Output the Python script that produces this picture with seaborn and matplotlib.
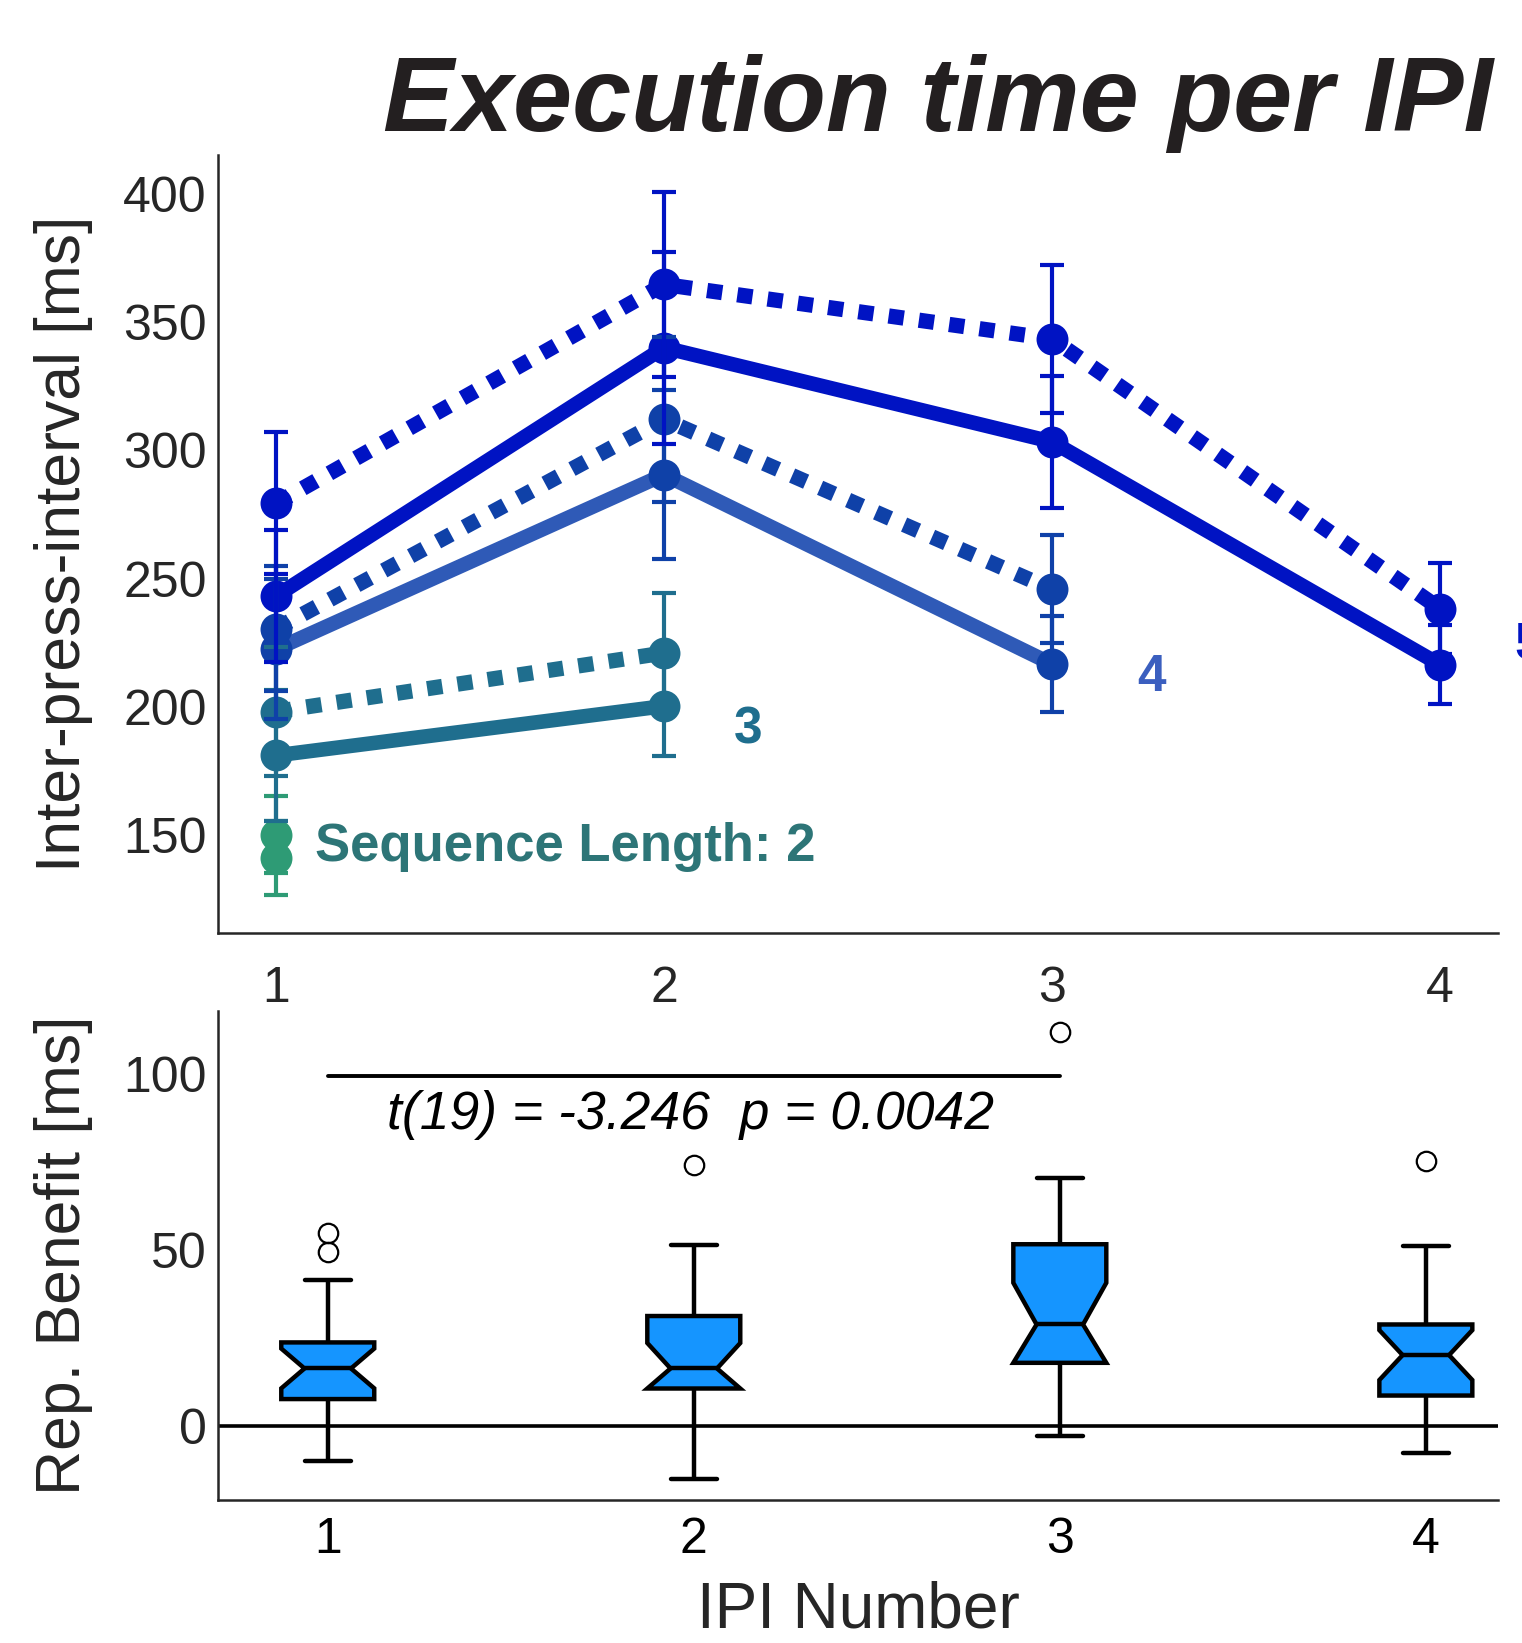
import numpy as np
import pandas as pd
import matplotlib
matplotlib.use("Agg")
import matplotlib.pyplot as plt
from matplotlib.path import Path
import seaborn as sns

sns.set_theme(style="white")
plt.rcParams['font.family'] = ['Liberation Sans', 'DejaVu Sans']

# ---------------- data (top panel: mean IPI +/- SEM) ----------------
ipi_numbers = [1, 2, 3, 4]

seq2_rep = [141.2]
seq2_rep_sem = [14.4]
seq2_nonrep = [150.2]
seq2_nonrep_sem = [15.0]

seq3_rep = [181.1, 200.3]
seq3_rep_sem = [25.4, 19.3]
seq3_nonrep = [198.2, 221.0]
seq3_nonrep_sem = [25.3, 23.3]

seq4_rep = [222.5, 290.5, 216.7]
seq4_rep_sem = [27.2, 32.8, 18.7]
seq4_nonrep = [230.5, 312.0, 245.8]
seq4_nonrep_sem = [24.2, 32.1, 21.1]

seq5_rep = [243.2, 340.0, 303.3, 216.5]
seq5_rep_sem = [25.8, 37.4, 25.8, 15.5]
seq5_nonrep = [279.3, 364.6, 343.4, 238.3]
seq5_nonrep_sem = [27.7, 36.2, 28.9, 17.7]

# ---------------- data (bottom panel: repetition benefit per subject, n=20) ----------------
benefit_ipi1 = [-9.8, -2, 3, 6, 7.7, 7.7, 10, 12, 14, 16.4, 16.4, 18, 20, 22, 23.8, 23.8, 30, 41.4, 49.4, 54.8]
benefit_ipi2 = [-14.9, -5, 2, 8, 10.7, 10.7, 12, 13, 15, 16.4, 16.4, 20, 24, 28, 31.3, 31.3, 36, 42, 51.5, 74.1]
benefit_ipi3 = [-2.7, 5, 12, 16, 18.0, 18.0, 21, 24, 27, 28.9, 28.9, 33, 40, 47, 51.7, 51.7, 58, 64, 70.5, 111.9]
benefit_ipi4 = [-7.7, 0, 4, 7, 8.7, 8.7, 12, 15, 18, 20.2, 20.2, 22, 24, 26, 28.9, 28.9, 35, 42, 51.2, 75.3]
ipi_labels = ["1", "2", "3", "4"]

title = "Execution time per IPI"
stat_text = "t(19) = -3.246  p = 0.0042"

# ---------------- colours ----------------
c5 = "#0013c3"
c4 = "#0f41a8"
c4_line = "#2f5ab7"
c3 = "#1f6e8e"
c2 = "#2e9b75"
txt = "#262626"

fig = plt.figure(figsize=(15.22, 16.43), dpi=100)
ax1 = fig.add_axes([0.1432, 0.4323, 0.8410, 0.4733])
ax2 = fig.add_axes([0.1432, 0.0870, 0.8410, 0.2977])

LW_SOLID = 10.5
LW_DOT = 11
MS = 23
dotted = (0, (1.0, 1.0))

series = [
    (seq2_nonrep, seq2_nonrep_sem, c2, c2, dotted),
    (seq2_rep, seq2_rep_sem, c2, c2, "-"),
    (seq3_nonrep, seq3_nonrep_sem, c3, c3, dotted),
    (seq3_rep, seq3_rep_sem, c3, c3, "-"),
    (seq4_rep, seq4_rep_sem, c4_line, c4, "-"),
    (seq4_nonrep, seq4_nonrep_sem, c4, c4, dotted),
    (seq5_rep, seq5_rep_sem, c5, c5, "-"),
    (seq5_nonrep, seq5_nonrep_sem, c5, c5, dotted),
]

for vals, sem, lc, mc, ls in series:
    xs = ipi_numbers[:len(vals)]
    sns.lineplot(x=xs, y=vals, ax=ax1, color=lc,
                 linewidth=(LW_SOLID if ls == "-" else LW_DOT), linestyle=ls,
                 marker="o", markersize=MS, markerfacecolor=mc, markeredgecolor=mc,
                 markeredgewidth=0, errorbar=None, legend=False)

for vals, sem, lc, mc, ls in series:
    xs = ipi_numbers[:len(vals)]
    ax1.errorbar(xs, vals, yerr=sem, fmt="none", ecolor=mc, elinewidth=3,
                 capsize=8.5, capthick=3)

ax1.text(1.10, 145.5, "Sequence Length: 2", color="#2d7577", fontsize=38,
         fontweight="bold", ha="left", va="center")
ax1.text(2.216, 191, "3", color=c3, fontsize=37, fontweight="bold", ha="center", va="center")
ax1.text(3.256, 211.5, "4", color="#3b5fbf", fontsize=37, fontweight="bold", ha="center", va="center")
ax1.text(4.23, 224, "5", color=c5, fontsize=37, fontweight="bold", ha="center", va="center",
         clip_on=False)

ax1.set_xlim(0.85, 4.15)
ax1.set_ylim(112, 415)
ax1.set_xticks(ipi_numbers)
ax1.set_xticklabels(ipi_labels)
ax1.set_yticks([150, 200, 250, 300, 350, 400])
ax1.set_ylabel("Inter-press-interval [ms]", fontsize=45, color=txt)
ax1.yaxis.set_label_coords(-0.098, 0.5)
ax1.set_xlabel("")
ax1.tick_params(axis="both", direction="in", length=9, width=1.6, colors=txt, labelsize=36)
ax1.tick_params(axis="x", pad=24)
ax1.tick_params(axis="y", pad=8)

# ---------------- bottom panel ----------------
groups = [benefit_ipi1, benefit_ipi2, benefit_ipi3, benefit_ipi4]
df = pd.DataFrame({
    "IPI": np.repeat(ipi_labels, 20),
    "benefit": benefit_ipi1 + benefit_ipi2 + benefit_ipi3 + benefit_ipi4,
})
sns.boxplot(data=df, x="IPI", y="benefit", order=ipi_labels, ax=ax2, notch=True,
            width=0.254, color="#1595ff", saturation=1, linecolor="black",
            linewidth=3.2, fliersize=14,
            flierprops=dict(marker="o", markerfacecolor="none",
                            markeredgecolor="black", markeredgewidth=1.6))

# keep the notch outline inside the box (no spurs past the quartiles)
for patch, g in zip(ax2.patches, groups):
    q1, q3 = np.percentile(g, [25, 75])
    path = patch.get_path()
    verts = path.vertices.copy()
    verts[:, 1] = np.clip(verts[:, 1], q1, q3)
    patch.set_path(Path(verts, path.codes))
    patch.set_joinstyle("miter")

ax2.axhline(0, color="black", lw=2.6, zorder=1)
ax2.plot([0, 2], [99.5, 99.5], color="black", lw=2.8, solid_capstyle="round")
ax2.text(0.99, 88.4, stat_text, fontsize=38.5, fontstyle="italic", ha="center",
         va="center", color="black")

ax2.set_xlim(-0.3, 3.197)
ax2.set_ylim(-21, 118)
ax2.set_yticks([0, 50, 100])
ax2.set_ylabel("Rep. Benefit [ms]", fontsize=45, color=txt)
ax2.yaxis.set_label_coords(-0.098, 0.5)
ax2.set_xlabel("IPI Number", fontsize=46, color=txt)
ax2.xaxis.set_label_coords(0.5, -0.165)
ax2.tick_params(axis="both", direction="in", length=9, width=1.6, colors=txt, labelsize=36)
ax2.tick_params(axis="x", pad=12, labelcolor="black")
ax2.tick_params(axis="y", pad=8)

for ax in (ax1, ax2):
    for side in ("top", "right"):
        ax.spines[side].set_visible(False)
    for side in ("left", "bottom"):
        ax.spines[side].set_color(txt)
        ax.spines[side].set_linewidth(1.8)

fig.text(0.981, 0.9203, title, ha="right", va="baseline", fontsize=76.5,
         fontweight="bold", fontstyle="italic", color="#231f20")

fig.savefig("out.png", dpi=100)
